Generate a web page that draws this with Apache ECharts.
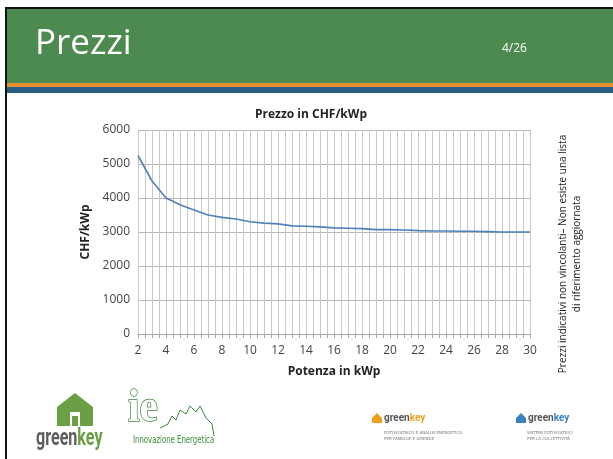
<!DOCTYPE html>
<html>
<head>
<meta charset="utf-8">
<script src="https://cdn.jsdelivr.net/npm/echarts@6/dist/echarts.min.js"></script>
<style>
  html, body { margin: 0; padding: 0; background: #fff; }
  #chart { width: 613px; height: 459px; }
</style>
</head>
<body>
<div id="chart"></div>
<script>
// Potenza (kWp) and price (CHF/kWp)
const potenza = [2, 3, 4, 5, 6, 7, 8, 9, 10, 11, 12, 13, 14, 15, 16,
  17, 18, 19, 20, 21, 22, 23, 24, 25, 26, 27, 28, 29, 30];
const prezzo = [5250, 4500, 4000, 3800, 3650, 3500, 3430, 3380, 3300, 3260, 3240, 3180, 3170, 3150, 3120,
  3110, 3100, 3070, 3070, 3060, 3040, 3030, 3030, 3020, 3020, 3010, 3000, 3000, 3000];
const yTicks = [0, 1000, 2000, 3000, 4000, 5000, 6000];

const chart = echarts.init(document.getElementById('chart'));
const font = 'Open Sans, sans-serif';
const gridColor = '#c8c8c8';

const option = {
  animation: false,
  backgroundColor: '#ffffff',
  title: {
    text: 'Prezzo in CHF/kWp',
    left: 306,
    textAlign: 'center',
    top: 104,
    textStyle: { fontFamily: font, fontSize: 12, fontWeight: 'bold', color: '#222' }
  },
  grid: { left: 138, right: 83, top: 130, bottom: 125 },
  xAxis: {
    type: 'value',
    min: 2,
    max: 30,
    interval: 2,
    name: 'Potenza in kWp',
    nameLocation: 'middle',
    nameGap: 32,
    nameTextStyle: { fontFamily: font, fontSize: 12, fontWeight: 'bold', color: '#222' },
    axisLine: { show: true, lineStyle: { color: '#a6a6a6' } },
    axisTick: { show: true, length: 4, lineStyle: { color: '#a6a6a6' } },
    minorTick: { show: true, splitNumber: 4, length: 4, lineStyle: { color: '#a6a6a6' } },
    axisLabel: { fontFamily: font, fontSize: 12, color: '#444', margin: 11 },
    splitLine: { show: true, lineStyle: { color: gridColor, width: 1 } },
    minorSplitLine: { show: true, lineStyle: { color: gridColor, width: 1 } }
  },
  yAxis: {
    type: 'value',
    min: 0,
    max: 6000,
    interval: 1000,
    name: 'CHF/kWp',
    nameLocation: 'middle',
    nameGap: 36,
    nameRotate: 90,
    nameTextStyle: { fontFamily: font, fontSize: 12, fontWeight: 'bold', color: '#222' },
    axisLine: { show: false },
    axisTick: { show: false },
    axisLabel: {
      fontFamily: font, fontSize: 12, color: '#444', margin: 8,
      formatter: (v) => yTicks.includes(v) ? String(v) : ''
    },
    splitLine: { show: true, lineStyle: { color: '#b5b5b5', width: 1 } }
  },
  series: [{
    type: 'line',
    data: potenza.map((p, i) => [p, prezzo[i]]),
    showSymbol: false,
    lineStyle: { color: '#4f81bd', width: 1.6 },
    itemStyle: { color: '#4f81bd' }
  }],
  graphic: [
    // slide frame
    { type: 'rect', shape: { x: 5, y: 7, width: 608, height: 2 }, style: { fill: '#111' } },
    { type: 'rect', shape: { x: 5, y: 7, width: 2, height: 452 }, style: { fill: '#111' } },
    // header band
    { type: 'rect', shape: { x: 7, y: 9, width: 606, height: 74 }, style: { fill: '#4d8a50' } },
    { type: 'rect', shape: { x: 7, y: 83, width: 606, height: 4 }, style: { fill: '#e58f33' } },
    { type: 'rect', shape: { x: 7, y: 87, width: 606, height: 6 }, style: { fill: '#2b5f86' } },
    { type: 'text', left: 35, top: 27, style: { text: 'Prezzi', fill: '#fff', font: '35px Open Sans, sans-serif' } },
    { type: 'text', left: 502, top: 43, style: { text: '4/26', fill: '#fff', font: '12px Open Sans, sans-serif' } },
    // side note, rotated
    {
      type: 'text', x: 570, y: 254, rotation: Math.PI / 2,
      style: {
        text: 'Prezzi indicativi non vincolanti\u2013 Non esiste una lista\ndi riferimento aggiornata',
        fill: '#222', font: '10px Open Sans, sans-serif', align: 'center', verticalAlign: 'middle',
        lineHeight: 14
      }
    },
    // greenkey logo (left)
    { type: 'polygon', shape: { points: [[57, 407], [75, 393], [93, 407], [93, 426], [80, 426], [80, 412], [70, 412], [70, 426], [57, 426]] }, style: { fill: '#6a9f45' } },
    { type: 'rect', shape: { x: 72, y: 416, width: 6, height: 10 }, style: { fill: '#6a9f45' } },
    {
      type: 'text', x: 36, y: 428, scaleX: 0.7,
      style: {
        text: '{g|green}{k|key}',
        rich: {
          g: { fill: '#5e5e5e', font: 'bold 23px Roboto, sans-serif' },
          k: { fill: '#6a9f45', font: 'bold 23px Roboto, sans-serif' }
        }
      }
    },
    // innovazione energetica logo
    { type: 'text', x: 128, y: 386, scaleX: 0.9, style: { text: 'ie', fill: '#fff', stroke: '#3d8a3d', lineWidth: 1.5, font: 'bold 46px Liberation Serif, serif' } },
    { type: 'polyline', shape: { points: [[160, 428], [168, 424], [172, 416], [176, 420], [180, 410], [186, 414], [190, 406], [196, 412], [200, 406], [206, 418], [212, 424], [214, 436]] }, style: { stroke: '#3d8a3d', lineWidth: 1, fill: null } },
    { type: 'text', x: 133, y: 435, scaleX: 0.7, style: { text: 'Innovazione Energetica', fill: '#3d8a3d', font: '11px DejaVu Sans Condensed, sans-serif' } },
    // greenkey small logos (right)
    { type: 'polygon', shape: { points: [[372, 418], [377, 413], [382, 418], [382, 423], [372, 423]] }, style: { fill: '#f0a020' } },
    {
      type: 'text', left: 384, top: 413,
      style: { text: '{g|green}{k|key}', rich: { g: { fill: '#555', font: 'bold 10px Roboto, sans-serif' }, k: { fill: '#f0a020', font: 'bold 10px Roboto, sans-serif' } } }
    },
    { type: 'text', left: 384, top: 430, style: { text: 'FOTOVOLTAICO E ANALISI ENERGETICA\nPER FAMIGLIE E AZIENDE', fill: '#777', font: '4px DejaVu Sans, sans-serif', lineHeight: 6 } },
    { type: 'polygon', shape: { points: [[516, 418], [521, 413], [526, 418], [526, 423], [516, 423]] }, style: { fill: '#3b82c4' } },
    {
      type: 'text', left: 528, top: 413,
      style: { text: '{g|green}{k|key}', rich: { g: { fill: '#555', font: 'bold 10px Roboto, sans-serif' }, k: { fill: '#3b82c4', font: 'bold 10px Roboto, sans-serif' } } }
    },
    { type: 'text', left: 527, top: 430, style: { text: 'SISTEMI FOTOVOLTAICI\nPER LA COLLETTIVITÀ', fill: '#777', font: '4px DejaVu Sans, sans-serif', lineHeight: 6 } }
  ]
};

chart.setOption(option);
</script>
</body>
</html>
